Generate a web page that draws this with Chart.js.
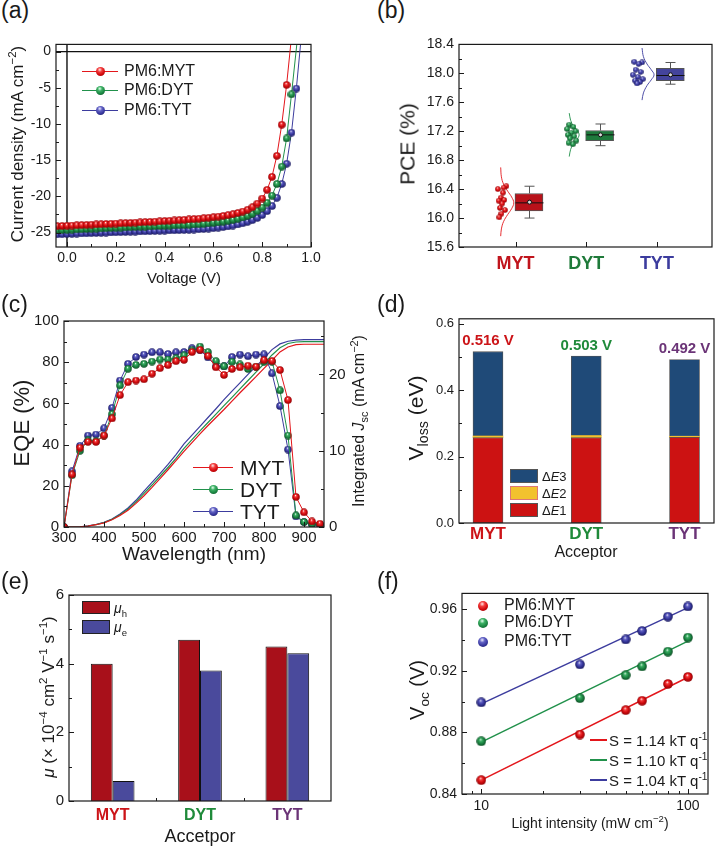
<!DOCTYPE html>
<html>
<head>
<meta charset="utf-8">
<script src="https://cdn.jsdelivr.net/npm/chart.js@4.4.0/dist/chart.umd.min.js"></script>
<style>
  body { margin: 0; background: #fff; }
  #fig { position: relative; width: 719px; height: 847px; overflow: hidden; font-family: "Liberation Sans", Arial, sans-serif; color: #1a1a1a; }
  canvas { position: absolute; }
  .t { position: absolute; white-space: nowrap; line-height: 1; }
  .cy { transform: translateY(-50%); }
  .cc { transform: translate(-50%, -50%); }
  .rot { transform: translate(-50%, -50%) rotate(-90deg); }
  .pl { font-size: 23px; }
  sub, sup { font-size: 0.68em; line-height: 0; }
  .ln { position: absolute; height: 0; border-top: 1.2px solid; }
  .ball { position: absolute; width: 9px; height: 9px; margin: -4px 0 0 -4.5px; border-radius: 50%; }
  .br { background: radial-gradient(circle at 42% 30%, #ffe6e6 0, #f23c3c 28%, #d0080c 62%, #8a0508 100%); }
  .bg { background: radial-gradient(circle at 42% 30%, #e6fff0 0, #3cb064 28%, #1b8442 62%, #0c4a22 100%); }
  .bb { background: radial-gradient(circle at 42% 30%, #ececff 0, #6262c4 28%, #36369c 62%, #1a1a5a 100%); }
  .sw { position: absolute; box-sizing: border-box; border: 1px solid #555; }
</style>
</head>
<body>
<div id="fig">
  <canvas id="cva"></canvas>
  <canvas id="cvb"></canvas>
  <canvas id="cvc"></canvas>
  <canvas id="cvd"></canvas>
  <canvas id="cve"></canvas>
  <canvas id="cvf"></canvas>

  <div class="t pl" style="left:1px;top:-1px">(a)</div>
  <div class="t pl" style="left:377px;top:-1px">(b)</div>
  <div class="t pl" style="left:1px;top:293px">(c)</div>
  <div class="t pl" style="left:377px;top:293px">(d)</div>
  <div class="t pl" style="left:1px;top:570px">(e)</div>
  <div class="t pl" style="left:377px;top:570px">(f)</div>

  <!-- axis titles -->
  <div class="t rot" style="left:17px;top:144px;font-size:17px">Current density (mA cm<sup>−2</sup>)</div>
  <div class="t cc" style="left:184px;top:277px;font-size:15px">Voltage (V)</div>
  <div class="t rot" style="left:407px;top:144px;font-size:21px">PCE (%)</div>
  <div class="t rot" style="left:22px;top:423px;font-size:22px">EQE (%)</div>
  <div class="t cc" style="left:194px;top:553px;font-size:19px">Wavelength (nm)</div>
  <div class="t rot" style="left:359px;top:421px;font-size:16px">Integrated <i>J</i><sub>sc</sub> (mA cm<sup>−2</sup>)</div>
  <div class="t rot" style="left:415px;top:418px;font-size:21px">V<sub>loss</sub> (eV)</div>
  <div class="t cc" style="left:586px;top:552px;font-size:16px">Acceptor</div>
  <div class="t rot" style="left:48px;top:697px;font-size:17px"><i>μ</i> (× 10<sup>−4</sup> cm<sup>2</sup> V<sup>−1</sup> s<sup>−1</sup>)</div>
  <div class="t cc" style="left:200px;top:836px;font-size:18px">Accetpor</div>
  <div class="t rot" style="left:417px;top:690px;font-size:20px">V<sub>oc</sub> (V)</div>
  <div class="t cc" style="left:590px;top:823px;font-size:14px">Light intensity (mW cm<sup>−2</sup>)</div>

  <!-- legend (a) -->
  <div class="ln" style="left:82px;top:71px;width:36px;border-color:#e3161b"></div>
  <div class="ball br" style="left:100px;top:71px"></div>
  <div class="t cy" style="left:124px;top:71px;font-size:16px">PM6:MYT</div>
  <div class="ln" style="left:82px;top:90px;width:36px;border-color:#21914b"></div>
  <div class="ball bg" style="left:100px;top:90px"></div>
  <div class="t cy" style="left:124px;top:90px;font-size:16px">PM6:DYT</div>
  <div class="ln" style="left:82px;top:110px;width:36px;border-color:#3c3c9e"></div>
  <div class="ball bb" style="left:100px;top:110px"></div>
  <div class="t cy" style="left:124px;top:110px;font-size:16px">PM6:TYT</div>

  <!-- legend (c) -->
  <div class="ln" style="left:193px;top:467px;width:40px;border-color:#e3161b"></div>
  <div class="ball br" style="left:213px;top:467px"></div>
  <div class="t cy" style="left:240px;top:467px;font-size:21px">MYT</div>
  <div class="ln" style="left:193px;top:489px;width:40px;border-color:#21914b"></div>
  <div class="ball bg" style="left:213px;top:489px"></div>
  <div class="t cy" style="left:240px;top:489px;font-size:21px">DYT</div>
  <div class="ln" style="left:193px;top:511px;width:40px;border-color:#3c3c9e"></div>
  <div class="ball bb" style="left:213px;top:511px"></div>
  <div class="t cy" style="left:240px;top:511px;font-size:21px">TYT</div>

  <!-- legend (d) -->
  <div class="sw" style="left:510px;top:469px;width:28px;height:14px;background:#1f4a78"></div>
  <div class="t cy" style="left:542px;top:476px;font-size:13px">Δ<i>E</i>3</div>
  <div class="sw" style="left:510px;top:486px;width:28px;height:14px;background:#f2c22e;border-color:#d77"></div>
  <div class="t cy" style="left:542px;top:493px;font-size:13px">Δ<i>E</i>2</div>
  <div class="sw" style="left:510px;top:503px;width:28px;height:14px;background:#cc1212"></div>
  <div class="t cy" style="left:542px;top:510px;font-size:13px">Δ<i>E</i>1</div>

  <!-- legend (e) -->
  <div class="sw" style="left:82px;top:601px;width:28px;height:13px;background:#a8101a;border-color:#222"></div>
  <div class="t cy" style="left:114px;top:608px;font-size:14px"><i>μ</i><sub>h</sub></div>
  <div class="sw" style="left:82px;top:620px;width:28px;height:14px;background:#4a4a9c;border-color:#222"></div>
  <div class="t cy" style="left:114px;top:627px;font-size:14px"><i>μ</i><sub>e</sub></div>

  <!-- legend (f) -->
  <div class="ball br" style="left:482px;top:605px;width:10px;height:10px"></div>
  <div class="t cy" style="left:504px;top:605px;font-size:16px">PM6:MYT</div>
  <div class="ball bg" style="left:482px;top:622px;width:10px;height:10px"></div>
  <div class="t cy" style="left:504px;top:622px;font-size:16px">PM6:DYT</div>
  <div class="ball bb" style="left:482px;top:641px;width:10px;height:10px"></div>
  <div class="t cy" style="left:504px;top:641px;font-size:16px">PM6:TYT</div>
  <div class="ln" style="left:590px;top:739px;width:17px;border-top-width:2px;border-color:#e3161b"></div>
  <div class="t cy" style="left:609px;top:740px;font-size:15px">S = 1.14 kT q<sup>-1</sup></div>
  <div class="ln" style="left:590px;top:759px;width:17px;border-top-width:2px;border-color:#21914b"></div>
  <div class="t cy" style="left:609px;top:760px;font-size:15px">S = 1.10 kT q<sup>-1</sup></div>
  <div class="ln" style="left:590px;top:779px;width:17px;border-top-width:2px;border-color:#3c3c9e"></div>
  <div class="t cy" style="left:609px;top:780px;font-size:15px">S = 1.04 kT q<sup>-1</sup></div>
</div>

<script>
// ---- (a) J-V curves ----
const voltage = [-0.04, -0.02, 0.00, 0.02, 0.04, 0.06, 0.08, 0.10, 0.12, 0.14,
  0.16, 0.18, 0.20, 0.22, 0.24, 0.26, 0.28, 0.30, 0.32, 0.34,
  0.36, 0.38, 0.40, 0.42, 0.44, 0.46, 0.48, 0.50, 0.52, 0.54,
  0.56, 0.58, 0.60, 0.62, 0.64, 0.66, 0.68, 0.70, 0.72, 0.74,
  0.76, 0.78, 0.80, 0.82, 0.84, 0.86, 0.88, 0.90, 0.92, 0.94];
const jMYT = [-24.12, -24.09, -24.06, -24.03, -24.00, -23.97, -23.94, -23.91, -23.88, -23.85,
  -23.82, -23.79, -23.76, -23.73, -23.70, -23.67, -23.63, -23.60, -23.56, -23.53,
  -23.49, -23.45, -23.41, -23.37, -23.33, -23.28, -23.24, -23.19, -23.14, -23.08,
  -23.02, -22.95, -22.88, -22.80, -22.70, -22.60, -22.47, -22.30, -22.10, -21.85,
  -21.50, -21.00, -20.30, -19.10, -17.30, -14.40, -10.10, -4.60];
const jDYT = [-24.68, -24.65, -24.62, -24.60, -24.57, -24.54, -24.51, -24.48, -24.46, -24.43,
  -24.40, -24.37, -24.34, -24.32, -24.29, -24.26, -24.23, -24.20, -24.18, -24.15,
  -24.12, -24.09, -24.06, -24.04, -24.01, -23.98, -23.95, -23.92, -23.88, -23.84,
  -23.79, -23.73, -23.66, -23.58, -23.49, -23.38, -23.25, -23.10, -22.92, -22.70,
  -22.42, -22.05, -21.55, -20.90, -19.90, -18.30, -15.90, -12.00, -5.90];
const jTYT = [-25.25, -25.23, -25.20, -25.18, -25.16, -25.13, -25.11, -25.09, -25.06, -25.04,
  -25.02, -24.99, -24.97, -24.95, -24.92, -24.90, -24.88, -24.85, -24.83, -24.81,
  -24.78, -24.76, -24.74, -24.71, -24.69, -24.67, -24.64, -24.62, -24.59, -24.55,
  -24.51, -24.46, -24.40, -24.33, -24.25, -24.15, -24.03, -23.89, -23.72, -23.52,
  -23.28, -22.98, -22.58, -22.05, -21.35, -20.20, -18.30, -15.50, -11.20, -5.10];
const jvTailV = [0.92, 0.945, 0.96];
const jvTailJ = [2, 2, 2];
const jvXTicks = [0, 0.2, 0.4, 0.6, 0.8, 1.0];
const jvYTicks = [0, -5, -10, -15, -20, -25];

// ---- (b) PCE statistics ----
const pceGroups = ['MYT', 'DYT', 'TYT'];
const pceMYT = [16.44, 16.42, 16.40, 16.35, 16.28, 16.25, 16.24, 16.20, 16.14, 16.11, 16.06, 16.01];
const pceMYTjit = [0.87, 0.83, 0.75, 0.82, 0.79, 0.84, 0.76, 0.81, 0.78, 0.85, 0.80, 0.77];
const pceDYT = [17.29, 17.26, 17.23, 17.20, 17.18, 17.15, 17.13, 17.10, 17.07, 17.04, 17.02];
const pceDYTjit = [1.76, 1.82, 1.73, 1.85, 1.79, 1.74, 1.83, 1.77, 1.86, 1.75, 1.81];
const pceTYT = [18.16, 18.15, 18.13, 18.05, 18.02, 17.98, 17.95, 17.92, 17.90, 17.88, 17.86];
const pceTYTjit = [2.68, 2.79, 2.74, 2.70, 2.77, 2.66, 2.73, 2.80, 2.69, 2.76, 2.72];
const boxQ1 = [16.10, 17.07, 17.90];
const boxQ3 = [16.34, 17.21, 18.07];
const boxMedian = [16.21, 17.15, 17.97];
const boxMean = [16.22, 17.15, 17.98];
const boxMin = [16.00, 17.00, 17.85];
const boxMax = [16.44, 17.30, 18.15];
const distMYTy = [15.75, 15.85, 15.95, 16.05, 16.13, 16.21, 16.29, 16.37, 16.47, 16.57, 16.70];
const distMYTx = [0.79, 0.80, 0.83, 0.89, 0.945, 0.975, 0.945, 0.89, 0.83, 0.80, 0.79];
const distDYTy = [16.85, 16.95, 17.03, 17.09, 17.15, 17.21, 17.27, 17.35, 17.45];
const distDYTx = [1.76, 1.78, 1.82, 1.87, 1.90, 1.87, 1.82, 1.78, 1.76];
const distTYTy = [17.63, 17.73, 17.83, 17.91, 17.98, 18.05, 18.13, 18.23, 18.35];
const distTYTx = [2.79, 2.81, 2.86, 2.92, 2.96, 2.92, 2.86, 2.81, 2.79];
const pceTicks = [15.6, 16.0, 16.4, 16.8, 17.2, 17.6, 18.0, 18.4];

// ---- (c) EQE and integrated Jsc ----
const wavelength = [300, 320, 340, 360, 380, 400, 420, 440, 460, 480, 500,
  520, 540, 560, 580, 600, 620, 640, 660, 680, 700,
  720, 740, 760, 780, 800, 820, 840, 860, 880, 900, 920, 940];
const eqeMYT = [0, 25.5, 38.5, 41.3, 41.3, 44.4, 52.7, 64.0, 70.3, 71.1, 71.7,
  74.4, 77.1, 78.6, 80.5, 81.1, 84.9, 86.0, 83.0, 77.5, 73.8,
  76.7, 77.5, 78.3, 77.8, 81.0, 80.6, 76.2, 61.6, 14.6, 7.1, 2.7, 1.6];
const eqeDYT = [0, 25.1, 37.0, 42.0, 41.6, 44.4, 54.8, 68.7, 76.8, 78.7, 79.2,
  80.3, 81.3, 81.3, 81.9, 83.3, 85.7, 87.6, 84.9, 80.5, 78.0,
  80.2, 78.9, 76.7, 77.8, 80.2, 80.2, 66.3, 44.4, 5.6, 2.4, 1.5, 1.2];
const eqeTYT = [0, 27.0, 39.4, 44.4, 44.9, 47.9, 57.8, 71.1, 79.2, 82.5, 83.7,
  84.8, 84.8, 84.0, 84.8, 84.9, 86.8, 85.8, 82.3, 78.0, 78.0,
  82.5, 83.7, 82.9, 83.7, 83.8, 74.6, 58.7, 37.6, 5.1, 2.4, 1.2, 1.0];
const jscWave = [300, 320, 340, 360, 380, 400, 420, 440, 460, 480, 500,
  520, 540, 560, 580, 600, 620, 640, 660, 680, 700,
  720, 740, 760, 780, 800, 820, 840, 860, 880, 900, 920, 940, 950];
const jscMYT = [0, 0, 0.02, 0.12, 0.30, 0.55, 0.95, 1.5, 2.2, 3.1, 4.1,
  5.2, 6.35, 7.5, 8.7, 9.9, 11.05, 12.2, 13.3, 14.35, 15.4,
  16.5, 17.6, 18.65, 19.7, 20.8, 21.85, 22.95, 23.6, 23.9, 23.95, 23.95, 23.95, 23.95];
const jscDYT = [0, 0, 0.02, 0.13, 0.31, 0.58, 1.0, 1.6, 2.35, 3.3, 4.4,
  5.5, 6.65, 7.8, 9.0, 10.3, 11.45, 12.6, 13.7, 14.8, 15.9,
  17.0, 18.1, 19.2, 20.3, 21.4, 22.55, 23.5, 24.05, 24.25, 24.3, 24.3, 24.3, 24.3];
const jscTYT = [0, 0, 0.03, 0.14, 0.33, 0.62, 1.05, 1.7, 2.5, 3.5, 4.7,
  5.85, 7.0, 8.2, 9.5, 10.9, 12.05, 13.2, 14.35, 15.5, 16.7,
  17.8, 18.9, 20.0, 21.05, 22.1, 23.25, 24.0, 24.35, 24.5, 24.55, 24.55, 24.55, 24.55];
const eqeXTicks = [300, 400, 500, 600, 700, 800, 900];
const eqeYTicks = [0, 20, 40, 60, 80, 100];
const jscTicks = [0, 10, 20];

// ---- (d) voltage loss ----
const lossCats = ['MYT', 'DYT', 'TYT'];
const dE1 = [0.257, 0.257, 0.258];
const dE2 = [0.005, 0.006, 0.003];
const dE3 = [0.254, 0.240, 0.231];
const lossTicks = [0, 0.2, 0.4, 0.6];

// ---- (e) mobilities ----
const mobCats = ['MYT', 'DYT', 'TYT'];
const muH = [4.0, 4.7, 4.5];
const muE = [0.58, 3.8, 4.3];
const mobTicks = [0, 2, 4, 6];

// ---- (f) Voc vs light intensity ----
const intensity = [10, 30, 50, 60, 80, 100];
const vocMYT = [0.849, 0.8786, 0.8944, 0.9005, 0.9114, 0.916];
const vocDYT = [0.8742, 0.9022, 0.9171, 0.9228, 0.9324, 0.9415];
const vocTYT = [0.8995, 0.9241, 0.9403, 0.9458, 0.9551, 0.9617];
const fitX = [10, 100];
const fitMYT = [0.849, 0.9158];
const fitDYT = [0.8737, 0.9392];
const fitTYT = [0.8985, 0.9610];
const vocTicks = [0.84, 0.88, 0.92, 0.96];
const lightTicks = [10, 100];

// ---- common ----
Chart.defaults.font.family = '"Liberation Sans", Arial, sans-serif';
Chart.defaults.color = '#1a1a1a';
Chart.defaults.animation = false;
Chart.defaults.events = [];
Chart.defaults.plugins.legend.display = false;
Chart.defaults.plugins.tooltip.enabled = false;

const red = '#e3161b', green = '#21914b', blue = '#3c3c9e';
const catColors = ['#c0141c', '#1f7a3a', '#3c3c9e'];
const accColors = ['#cc1418', '#1f8a3a', '#6b3477'];

function makeBall(base, light, dark, d) {
  const c = document.createElement('canvas');
  c.width = c.height = d;
  const g = c.getContext('2d');
  const r = d / 2;
  const grad = g.createRadialGradient(r * 0.85, r * 0.6, 0, r, r, r);
  grad.addColorStop(0, '#ffffff');
  grad.addColorStop(0.28, light);
  grad.addColorStop(0.62, base);
  grad.addColorStop(1, dark);
  g.fillStyle = grad;
  g.beginPath();
  g.arc(r, r, r - 0.2, 0, Math.PI * 2);
  g.fill();
  return c;
}
const balls = d => [
  makeBall('#d0080c', '#f23c3c', '#8a0508', d),
  makeBall('#1b8442', '#3cb064', '#0c4a22', d),
  makeBall('#36369c', '#6262c4', '#1a1a5a', d)
];

const ticksAt = vals => s => { s.ticks = vals.map(v => ({ value: v })); };
const mids = vals => vals.slice(1).map((v, i) => (v + vals[i]) / 2);

function place(id, L, T, R, B, padR) {
  const c = document.getElementById(id);
  const p = { padL: 52, padT: 10, padB: 36, padR: padR || 14, canvas: c };
  c.width = R - L + p.padL + p.padR;
  c.height = B - T + p.padT + p.padB;
  c.style.left = (L - p.padL) + 'px';
  c.style.top = (T - p.padT) + 'px';
  return p;
}

function xAxis(p, extra) {
  return Object.assign({
    offset: false,
    grid: { display: false, drawTicks: false },
    border: { display: false },
    afterFit: s => { s.height = p.padB; }
  }, extra);
}
function yAxis(p, extra) {
  return Object.assign({
    grid: { display: false, drawTicks: false },
    border: { display: false },
    afterFit: s => { s.width = p.padL; }
  }, extra);
}

// frame around the plot, inward ticks, optional zero lines
function frame(marks, zero) {
  return {
    id: 'frame',
    beforeDatasetsDraw(chart) {
      if (!zero) return;
      const { ctx, chartArea: a, scales } = chart;
      const x0 = scales.x.getPixelForValue(0), y0 = scales.y.getPixelForValue(0);
      ctx.save();
      ctx.strokeStyle = '#111';
      ctx.lineWidth = 1.4;
      ctx.beginPath();
      ctx.moveTo(a.left, y0); ctx.lineTo(a.right, y0);
      ctx.moveTo(x0, a.top); ctx.lineTo(x0, a.bottom);
      ctx.stroke();
      ctx.restore();
    },
    afterDatasetsDraw(chart) {
      const { ctx, chartArea: a } = chart;
      ctx.save();
      ctx.strokeStyle = '#1a1a1a';
      ctx.lineWidth = 1.2;
      ctx.strokeRect(a.left, a.top, a.right - a.left, a.bottom - a.top);
      ctx.lineWidth = 1;
      marks.forEach(m => {
        const s = chart.scales[m.scale];
        [[m.major || [], 5], [m.minor || [], 3]].forEach(([vals, len]) => {
          vals.forEach(v => {
            const q = Math.round(s.getPixelForValue(v)) + 0.5;
            ctx.beginPath();
            if (m.side === 'bottom') { ctx.moveTo(q, a.bottom); ctx.lineTo(q, a.bottom - len); }
            else if (m.side === 'left') { ctx.moveTo(a.left, q); ctx.lineTo(a.left + len, q); }
            else { ctx.moveTo(a.right, q); ctx.lineTo(a.right - len, q); }
            ctx.stroke();
          });
        });
      });
      ctx.restore();
    }
  };
}

// ---- chart (a) ----
const ballsA = balls(8);
function jvSet(j, k, color) {
  const pts = j.map((y, i) => ({ x: voltage[i], y }));
  pts.push({ x: jvTailV[k], y: jvTailJ[k] });
  return {
    data: pts, borderColor: color, borderWidth: 1, pointStyle: ballsA[k],
    pointRadius: c => (c.dataIndex < j.length ? 4 : 0)
  };
}
const pa = place('cva', 56, 41, 311, 247);
new Chart(pa.canvas, {
  type: 'line',
  data: { datasets: [jvSet(jMYT, 0, red), jvSet(jDYT, 1, green), jvSet(jTYT, 2, blue)] },
  options: {
    responsive: false,
    layout: { padding: { top: pa.padT, right: pa.padR, left: 0, bottom: 0 } },
    scales: {
      x: xAxis(pa, { type: 'linear', min: -0.045, max: 1.0, afterBuildTicks: ticksAt(jvXTicks),
        ticks: { callback: v => v.toFixed(1), font: { size: 14 }, padding: 3, autoSkip: false, maxRotation: 0 } }),
      y: yAxis(pa, { type: 'linear', min: -27, max: 1, afterBuildTicks: ticksAt(jvYTicks),
        ticks: { font: { size: 14 }, padding: 5 } })
    }
  },
  plugins: [frame([
    { scale: 'x', side: 'bottom', major: jvXTicks, minor: mids(jvXTicks) },
    { scale: 'y', side: 'left', major: jvYTicks, minor: mids(jvYTicks) }
  ], true)]
});

// ---- chart (b) ----
const BOX_SHIFT = 0.19;
const ballsB = balls(6);
const boxFill = ['#b8121a', '#1e7a3c', '#44449c'];
const lineCols = [red, green, blue];
function dots(vals, jit, k) {
  return { type: 'line', showLine: false, data: vals.map((v, i) => ({ x: jit[i], y: v })),
    pointStyle: ballsB[k], pointRadius: 3 };
}
function dist(ys, xs, k) {
  return { type: 'line', data: ys.map((v, i) => ({ x: xs[i], y: v })), borderColor: lineCols[k],
    borderWidth: 0.9, tension: 0.4, pointRadius: 0 };
}
const whiskers = {
  id: 'whiskers',
  afterDatasetsDraw(chart) {
    const { ctx, scales: { x, y } } = chart;
    const seg = (x1, y1, x2, y2) => { ctx.beginPath(); ctx.moveTo(x1, y1); ctx.lineTo(x2, y2); ctx.stroke(); };
    ctx.save();
    ctx.lineWidth = 1;
    pceGroups.forEach((g, i) => {
      const cx = Math.round(x.getPixelForValue(i + 1 + BOX_SHIFT)) + 0.5;
      ctx.strokeStyle = '#555';
      seg(cx, y.getPixelForValue(boxQ3[i]), cx, y.getPixelForValue(boxMax[i]));
      seg(cx, y.getPixelForValue(boxQ1[i]), cx, y.getPixelForValue(boxMin[i]));
      seg(cx - 5, y.getPixelForValue(boxMax[i]), cx + 5, y.getPixelForValue(boxMax[i]));
      seg(cx - 5, y.getPixelForValue(boxMin[i]), cx + 5, y.getPixelForValue(boxMin[i]));
      ctx.strokeStyle = '#111';
      seg(cx - 14, y.getPixelForValue(boxMedian[i]), cx + 14, y.getPixelForValue(boxMedian[i]));
      ctx.beginPath();
      ctx.arc(cx, y.getPixelForValue(boxMean[i]), 2, 0, Math.PI * 2);
      ctx.fillStyle = '#ddd';
      ctx.fill();
      ctx.stroke();
    });
    ctx.restore();
  }
};
const pb = place('cvb', 459, 41, 712, 247);
new Chart(pb.canvas, {
  type: 'bar',
  data: { datasets: [
    { type: 'bar', data: pceGroups.map((g, i) => ({ x: i + 1 + BOX_SHIFT, y: [boxQ1[i], boxQ3[i]] })),
      backgroundColor: boxFill, borderColor: '#555', borderWidth: 1, borderSkipped: false, barThickness: 28 },
    dots(pceMYT, pceMYTjit, 0), dots(pceDYT, pceDYTjit, 1), dots(pceTYT, pceTYTjit, 2),
    dist(distMYTy, distMYTx, 0), dist(distDYTy, distDYTx, 1), dist(distTYTy, distTYTx, 2)
  ] },
  options: {
    responsive: false,
    layout: { padding: { top: pb.padT, right: pb.padR, left: 0, bottom: 0 } },
    scales: {
      x: xAxis(pb, { type: 'linear', min: 0.2, max: 3.78, afterBuildTicks: ticksAt([1, 2, 3]),
        ticks: { callback: v => pceGroups[v - 1], color: c => catColors[c.index],
          font: { size: 18, weight: 'bold' }, padding: 6, autoSkip: false, maxRotation: 0 } }),
      y: yAxis(pb, { type: 'linear', min: 15.6, max: 18.4, afterBuildTicks: ticksAt(pceTicks),
        ticks: { callback: v => v.toFixed(1), font: { size: 14 }, padding: 5 } })
    }
  },
  plugins: [whiskers, frame([
    { scale: 'x', side: 'bottom', major: [1, 2, 3] },
    { scale: 'y', side: 'left', major: pceTicks, minor: mids(pceTicks) }
  ])]
});

// ---- chart (c) ----
const ballsC = balls(8);
function eqeSet(vals, k) {
  return { data: vals.map((v, i) => ({ x: wavelength[i], y: v })), yAxisID: 'y', borderColor: lineCols[k],
    borderWidth: 1, pointStyle: ballsC[k], pointRadius: 4 };
}
function jscSet(vals, k) {
  return { data: vals.map((v, i) => ({ x: jscWave[i], y: v })), yAxisID: 'y2', borderColor: lineCols[k],
    borderWidth: 1.2, pointRadius: 0 };
}
const pc = place('cvc', 64, 317, 324, 527, 36);
new Chart(pc.canvas, {
  type: 'line',
  data: { datasets: [eqeSet(eqeMYT, 0), eqeSet(eqeDYT, 1), eqeSet(eqeTYT, 2),
    jscSet(jscMYT, 0), jscSet(jscDYT, 1), jscSet(jscTYT, 2)] },
  options: {
    responsive: false,
    layout: { padding: { top: pc.padT, right: 0, left: 0, bottom: 0 } },
    scales: {
      x: xAxis(pc, { type: 'linear', min: 300, max: 950, afterBuildTicks: ticksAt(eqeXTicks),
        ticks: { font: { size: 15 }, padding: 2, autoSkip: false, maxRotation: 0 } }),
      y: yAxis(pc, { type: 'linear', min: 0, max: 100, afterBuildTicks: ticksAt(eqeYTicks),
        ticks: { font: { size: 15 }, padding: 5 } }),
      y2: { type: 'linear', position: 'right', min: 0, max: 27, afterBuildTicks: ticksAt(jscTicks),
        grid: { display: false, drawTicks: false }, border: { display: false },
        ticks: { font: { size: 15 }, padding: 5 }, afterFit: s => { s.width = 36; } }
    }
  },
  plugins: [frame([
    { scale: 'x', side: 'bottom', major: eqeXTicks, minor: mids(eqeXTicks) },
    { scale: 'y', side: 'left', major: eqeYTicks, minor: mids(eqeYTicks) },
    { scale: 'y2', side: 'right', major: jscTicks, minor: [5, 15, 25] }
  ])]
});

// ---- chart (d) ----
const totals = {
  id: 'totals',
  afterDatasetsDraw(chart) {
    const { ctx, scales: { x, y } } = chart;
    ctx.save();
    ctx.font = 'bold 15px "Liberation Sans", Arial, sans-serif';
    ctx.textAlign = 'center';
    ctx.textBaseline = 'bottom';
    lossCats.forEach((c, i) => {
      const sum = dE1[i] + dE2[i] + dE3[i];
      ctx.fillStyle = accColors[i];
      ctx.fillText(sum.toFixed(3) + ' V', x.getPixelForValue(i + 1), y.getPixelForValue(sum) - 3);
    });
    ctx.restore();
  }
};
function lossSet(vals, color, bw) {
  return { data: vals.map((v, i) => ({ x: i + 1, y: v })), backgroundColor: color, borderColor: '#555',
    borderWidth: bw, borderSkipped: false, barThickness: 30 };
}
const pd = place('cvd', 459, 316, 714, 523);
new Chart(pd.canvas, {
  type: 'bar',
  data: { datasets: [lossSet(dE1, '#cc1212', 0.8), lossSet(dE2, '#f2c22e', 0), lossSet(dE3, '#1f4a78', 0.8)] },
  options: {
    responsive: false,
    layout: { padding: { top: pd.padT, right: pd.padR, left: 0, bottom: 0 } },
    scales: {
      x: xAxis(pd, { type: 'linear', stacked: true, min: 0.705, max: 3.3, afterBuildTicks: ticksAt([1, 2, 3]),
        ticks: { callback: v => lossCats[v - 1], color: c => accColors[c.index],
          font: { size: 17, weight: 'bold' }, padding: 1, autoSkip: false, maxRotation: 0 } }),
      y: yAxis(pd, { type: 'linear', stacked: true, min: 0, max: 0.615, afterBuildTicks: ticksAt(lossTicks),
        ticks: { callback: v => v.toFixed(1), font: { size: 13 }, padding: 5 } })
    }
  },
  plugins: [totals, frame([
    { scale: 'y', side: 'left', major: lossTicks, minor: mids(lossTicks) }
  ])]
});

// ---- chart (e) ----
const pe = place('cve', 69, 591, 331, 801);
new Chart(pe.canvas, {
  type: 'bar',
  data: {
    labels: mobCats,
    datasets: [
      { data: muH, backgroundColor: '#a8101a', borderColor: '#111', borderWidth: 1,
        categoryPercentage: 0.5, barPercentage: 1 },
      { data: muE, backgroundColor: '#4a4a9c', borderColor: '#111', borderWidth: 1,
        categoryPercentage: 0.5, barPercentage: 1 }
    ]
  },
  options: {
    responsive: false,
    layout: { padding: { top: pe.padT, right: pe.padR, left: 0, bottom: 0 } },
    scales: {
      x: xAxis(pe, { offset: true, ticks: { color: c => accColors[c.index],
        font: { size: 16, weight: 'bold' }, padding: 5 } }),
      y: yAxis(pe, { min: 0, max: 6, afterBuildTicks: ticksAt(mobTicks),
        ticks: { font: { size: 15 }, padding: 5 } })
    }
  },
  plugins: [frame([
    { scale: 'x', side: 'bottom', minor: [0.5, 1.5] },
    { scale: 'y', side: 'left', major: mobTicks, minor: mids(mobTicks) }
  ])]
});

// ---- chart (f) ----
const ballsF = balls(10);
function vocSet(vals, k) {
  return { data: vals.map((v, i) => ({ x: intensity[i], y: v })), showLine: false,
    pointStyle: ballsF[k], pointRadius: 5 };
}
function fitSet(vals, k) {
  return { data: vals.map((v, i) => ({ x: fitX[i], y: v })), borderColor: lineCols[k],
    borderWidth: 1.5, pointRadius: 0 };
}
const pf = place('cvf', 462, 590, 708, 794);
new Chart(pf.canvas, {
  type: 'line',
  data: { datasets: [vocSet(vocMYT, 0), vocSet(vocDYT, 1), vocSet(vocTYT, 2),
    fitSet(fitMYT, 0), fitSet(fitDYT, 1), fitSet(fitTYT, 2)] },
  options: {
    responsive: false,
    layout: { padding: { top: pf.padT, right: pf.padR, left: 0, bottom: 0 } },
    scales: {
      x: xAxis(pf, { type: 'logarithmic', min: 8.07, max: 125, afterBuildTicks: ticksAt(lightTicks),
        ticks: { callback: v => String(v), font: { size: 14 }, padding: 4, autoSkip: false, maxRotation: 0 } }),
      y: yAxis(pf, { type: 'linear', min: 0.84, max: 0.9702, afterBuildTicks: ticksAt(vocTicks),
        ticks: { callback: v => v.toFixed(2), font: { size: 14 }, padding: 5 } })
    }
  },
  plugins: [frame([
    { scale: 'x', side: 'bottom', major: lightTicks, minor: [9, 20, 30, 40, 50, 60, 70, 80, 90] },
    { scale: 'y', side: 'left', major: vocTicks, minor: mids(vocTicks) }
  ])]
});
</script>
</body>
</html>
